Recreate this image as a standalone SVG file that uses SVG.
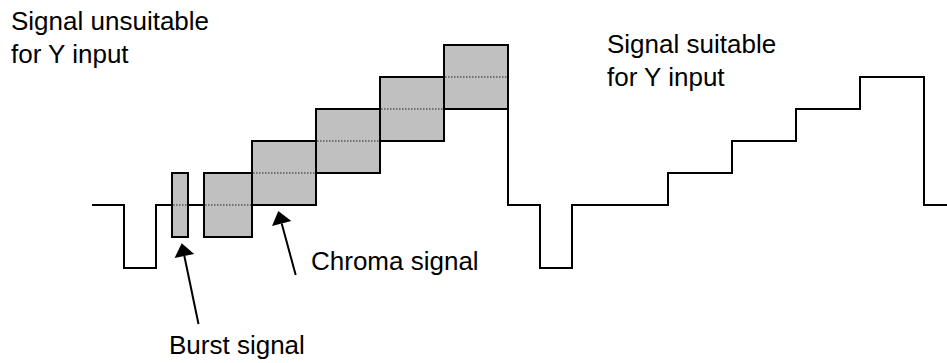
<svg xmlns="http://www.w3.org/2000/svg" width="947" height="363" viewBox="0 0 947 363">
<style>
.sig{fill:none;stroke:#000;stroke-width:2;stroke-linejoin:miter}
.box{fill:#c0c0c0;stroke:#000;stroke-width:2}
.mid{fill:none;stroke:#555;stroke-width:1.5;stroke-dasharray:1.5 1.5}
.lbl{font-family:"Liberation Sans",Arial,sans-serif;font-size:26px;fill:#000}
.arr{fill:none;stroke:#000;stroke-width:2;marker-end:url(#ah)}
</style>
<defs>
<marker id="ah" markerUnits="userSpaceOnUse" markerWidth="13" markerHeight="20" refX="0" refY="10" orient="auto" overflow="visible">
<path d="M0,0 L13,10 L0,20 Z" fill="#000"/>
</marker>
</defs>
<rect width="947" height="363" fill="#fff"/>
<g id="unsuitable-signal">
<path class="sig" d="M92,205 H124 V268 H156 V205 H204"/>
<rect id="burst" class="box" x="172" y="173" width="16" height="64"/>
<line class="mid" x1="173" y1="205" x2="187" y2="205"/>
<rect class="box" x="204" y="173" width="48" height="64"/>
<line class="mid" x1="205" y1="205" x2="251" y2="205"/>
<rect class="box" x="252" y="141" width="64" height="64"/>
<line class="mid" x1="253" y1="173" x2="315" y2="173"/>
<rect class="box" x="316" y="109" width="64" height="64"/>
<line class="mid" x1="317" y1="141" x2="379" y2="141"/>
<rect class="box" x="380" y="77" width="64" height="64"/>
<line class="mid" x1="381" y1="109" x2="443" y2="109"/>
<rect class="box" x="444" y="45" width="64" height="64"/>
<line class="mid" x1="445" y1="77" x2="507" y2="77"/>
</g>
<g id="suitable-signal">
<path class="sig" d="M508,109 V205 H540 V268 H572 V205 H668 V173 H732 V141 H796 V109 H860 V77 H924 V205 H947"/>
</g>
<g id="connectors">
<line class="arr" x1="198.5" y1="324" x2="184.35" y2="256"/>
<line class="arr" x1="295.7" y1="275" x2="281.7" y2="223.5"/>
</g>
<g id="labels">
<text class="lbl" x="11" y="30">Signal unsuitable</text>
<text class="lbl" x="11" y="63">for Y input</text>
<text class="lbl" x="607" y="53">Signal suitable</text>
<text class="lbl" x="607" y="86">for Y input</text>
<text class="lbl" x="311" y="270">Chroma signal</text>
<text class="lbl" x="169" y="354">Burst signal</text>
</g>
</svg>
